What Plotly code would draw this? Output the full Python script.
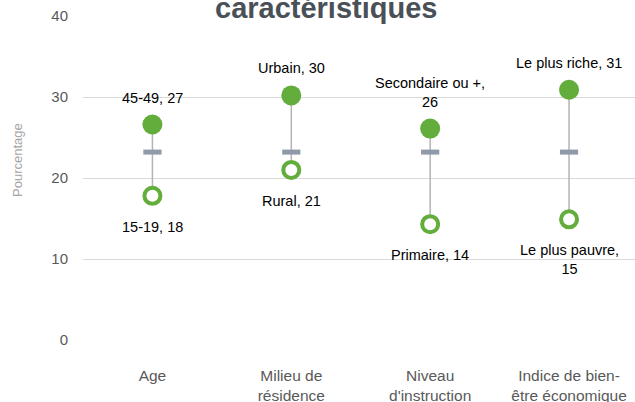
import plotly.graph_objects as go

categories = ["Age", "Milieu de<br>résidence", "Niveau<br>d'instruction", "Indice de bien-<br>être économique"]
high_names = ["45-49", "Urbain", "Secondaire ou +", "Le plus riche"]
high_values = [26.6, 30.2, 26.1, 30.9]
low_names = ["15-19", "Rural", "Primaire", "Le plus pauvre"]
low_values = [17.8, 21.0, 14.3, 14.9]
average_values = [23.2, 23.2, 23.2, 23.2]
high_wrap = [False, False, True, False]
low_wrap = [False, False, False, True]
y_ticks = [0, 10, 20, 30, 40]

GREEN = "#63ad3d"
FONT = "Liberation Sans"

fig = go.Figure()

# connecting lines
lx, ly = [], []
for c, lo, hi in zip(categories, low_values, high_values):
    lx += [c, c, None]
    ly += [lo, hi, None]
fig.add_trace(go.Scatter(x=lx, y=ly, mode="lines", line=dict(color="#b3b3b3", width=1.5),
                         hoverinfo="skip", showlegend=False))

# average dash
fig.add_trace(go.Scatter(x=categories, y=average_values, mode="markers",
                         marker=dict(symbol="line-ew", size=13, line=dict(width=5, color="#8f99aa")),
                         showlegend=False))

# high (filled)
fig.add_trace(go.Scatter(x=categories, y=high_values, mode="markers",
                         marker=dict(symbol="circle", size=20, color=GREEN, line=dict(width=0)),
                         showlegend=False))
# low (hollow)
fig.add_trace(go.Scatter(x=categories, y=low_values, mode="markers",
                         marker=dict(symbol="circle", size=16, color="white", line=dict(width=4, color=GREEN)),
                         showlegend=False))

annotations = []
for c, n, v, w in zip(categories, high_names, high_values, high_wrap):
    sep = "<br>" if w else " "
    annotations.append(dict(x=c, y=v, text=f"{n},{sep}{v:.0f}", showarrow=False,
                            xanchor="center", yanchor="bottom", yshift=17,
                            font=dict(family=FONT, size=14.5, color="#000000")))
for c, n, v, w in zip(categories, low_names, low_values, low_wrap):
    sep = "<br>" if w else " "
    annotations.append(dict(x=c, y=v, text=f"{n},{sep}{v:.0f}", showarrow=False,
                            xanchor="center", yanchor="top", yshift=-21,
                            font=dict(family=FONT, size=14.5, color="#000000")))

# title (partially visible)
annotations.append(dict(xref="paper", yref="paper", x=(326 - 83) / 552, y=1, xanchor="center",
                        yanchor="bottom", yshift=-10, showarrow=False,
                        text="<b>caractéristiques</b>",
                        font=dict(family=FONT, size=29, color="#4a5057")))
# y axis title
annotations.append(dict(xref="paper", yref="paper", x=-(83 - 17) / 552, y=(340 - 160) / 324,
                        xanchor="center", yanchor="middle", textangle=-90, showarrow=False,
                        text="Pourcentage", font=dict(family=FONT, size=13, color="#a6a6a6")))

fig.update_layout(
    width=635, height=402,
    margin=dict(l=83, r=0, t=16, b=62),
    plot_bgcolor="white", paper_bgcolor="white",
    showlegend=False,
    annotations=annotations,
    xaxis=dict(type="category", range=[-0.5, 3.475], showgrid=False, zeroline=False,
               showline=False, ticks="", ticklabelstandoff=24, automargin=False,
               tickfont=dict(family=FONT, size=15.5, color="#595959")),
    yaxis=dict(range=[0, 40], tickvals=y_ticks, showgrid=True, gridcolor="#d9d9d9", gridwidth=1,
               zeroline=False, showline=False, ticks="", ticklabelstandoff=14, automargin=False,
               tickfont=dict(family=FONT, size=15, color="#595959")),
)

fig.write_html("out.html", config={"displayModeBar": False},
               post_script="document.body.style.margin='0';document.body.style.overflow='hidden';")
